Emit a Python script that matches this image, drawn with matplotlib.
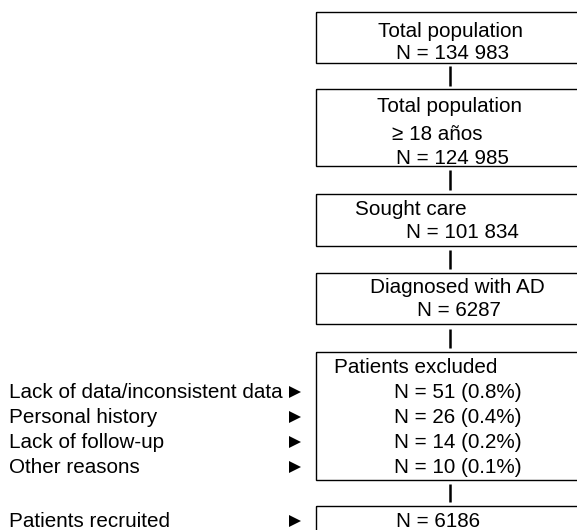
import matplotlib
matplotlib.use("Agg")
import matplotlib.pyplot as plt
from matplotlib.patches import Rectangle

# ---- data ----
stage_labels = ["Total population", "Total population\n≥ 18 años", "Sought care", "Diagnosed with AD"]
stage_n = [134983, 124985, 101834, 6287]
exclusion_header = "Patients excluded"
exclusion_reasons = ["Lack of data/inconsistent data", "Personal history", "Lack of follow-up", "Other reasons"]
exclusion_n = [51, 26, 14, 10]
exclusion_pct = [0.8, 0.4, 0.2, 0.1]
recruited_label = "Patients recruited"
recruited_n = 6186


def fmt_n(n):
    return f"{n:,}".replace(",", " ") if n >= 10000 else str(n)


plt.rcParams['font.family'] = ['Liberation Sans', 'DejaVu Sans']
FS = 14.9
W, H = 577, 530
fig = plt.figure(figsize=(W / 100, H / 100), dpi=100)
ax = fig.add_axes([0, 0, 1, 1])
ax.set_xlim(0, W)
ax.set_ylim(H, 0)
ax.axis('off')

BOX_L, BOX_R = 316, 620
BOX_LW = 1.0
CONN_X = 450

# ---- layout (pixels) ----
stage_boxes = [(12, 63), (89, 166), (194, 246), (273, 324)]
stage_line_x = [[378, 396], [377, 392, 396], [355, 406], [370, 417]]
stage_line_base = [[37, 59], [112, 140, 164], [215, 238], [293, 316]]

excl_box = (352, 480)
excl_header_pos = (334, 373)
excl_row_x = 394
row_base = [398, 423, 448, 473]
rec_box = (506, 560)
rec_base = 527
rec_x = 396
left_x = 9
tri_x = 295

connectors = [(66, 86), (170, 190), (250, 269), (329, 348), (484, 502)]


def box(y0, y1):
    ax.add_patch(Rectangle((BOX_L, y0), BOX_R - BOX_L, y1 - y0, fill=False,
                           edgecolor='black', lw=BOX_LW, clip_on=True))


for (y0, y1), label, n, xs, bs in zip(stage_boxes, stage_labels, stage_n,
                                      stage_line_x, stage_line_base):
    box(y0, y1)
    lines = label.split("\n") + [f"N = {fmt_n(n)}"]
    for t, x, b in zip(lines, xs, bs):
        ax.text(x, b, t, fontsize=FS, ha='left', va='baseline', color='black')

# exclusions box
box(*excl_box)
ax.text(excl_header_pos[0], excl_header_pos[1], exclusion_header, fontsize=FS,
        ha='left', va='baseline')
for reason, n, p, b in zip(exclusion_reasons, exclusion_n, exclusion_pct, row_base):
    ax.text(excl_row_x, b, f"N = {n} ({p}%)", fontsize=FS, ha='left', va='baseline')
    ax.text(left_x, b, reason, fontsize=FS, ha='left', va='baseline')
    ax.plot([tri_x], [b - 6], marker='>', color='black', ms=9, mew=0)

# recruited box
box(*rec_box)
ax.text(rec_x, rec_base, f"N = {fmt_n(recruited_n)}", fontsize=FS, ha='left', va='baseline')
ax.text(left_x, rec_base, recruited_label, fontsize=FS, ha='left', va='baseline')
ax.plot([tri_x], [rec_base - 6], marker='>', color='black', ms=9, mew=0)

for y0, y1 in connectors:
    ax.plot([CONN_X, CONN_X], [y0, y1], color='black', lw=1.8, solid_capstyle='butt')

fig.savefig("out.png", dpi=100)
